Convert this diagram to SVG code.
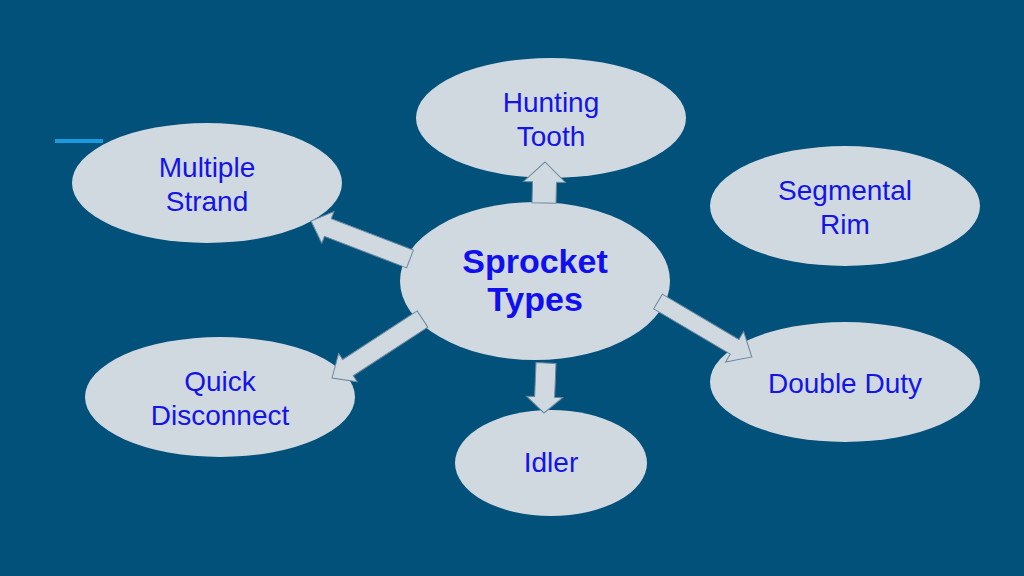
<svg xmlns="http://www.w3.org/2000/svg" width="1024" height="576" viewBox="0 0 1024 576">
<style>
.node ellipse{fill:#d0d8e0;}
.lbl{font-family:"Liberation Sans",Arial,sans-serif;font-size:28px;fill:#1414e6;text-anchor:middle;}
.big{font-family:"Liberation Sans",Arial,sans-serif;font-size:34px;font-weight:bold;fill:#1010ee;text-anchor:middle;}
.arrow{fill:#d0d8e0;stroke:#6a8aa0;stroke-width:1;}
</style>
<rect width="1024" height="576" fill="#02517b"/>
<line x1="55" y1="141" x2="103" y2="141" stroke="#1a9be0" stroke-width="4"/>
<g id="hunting-tooth" class="node"><ellipse cx="551" cy="118" rx="135" ry="60"/><text class="lbl" x="551" y="112">Hunting</text><text class="lbl" x="551" y="146">Tooth</text></g>
<g id="multiple-strand" class="node"><ellipse cx="207" cy="183" rx="135" ry="60"/><text class="lbl" x="207" y="177">Multiple</text><text class="lbl" x="207" y="211">Strand</text></g>
<g id="segmental-rim" class="node"><ellipse cx="845" cy="206" rx="135" ry="60"/><text class="lbl" x="845" y="200">Segmental</text><text class="lbl" x="845" y="234">Rim</text></g>
<g id="quick-disconnect" class="node"><ellipse cx="220" cy="397" rx="135" ry="60"/><text class="lbl" x="220" y="391">Quick</text><text class="lbl" x="220" y="425">Disconnect</text></g>
<g id="double-duty" class="node"><ellipse cx="845" cy="382" rx="135" ry="60"/><text class="lbl" x="845" y="393">Double Duty</text></g>
<g id="idler" class="node"><ellipse cx="551" cy="463" rx="96" ry="53"/><text class="lbl" x="551" y="472">Idler</text></g>
<g id="sprocket-types" class="node"><ellipse cx="535" cy="281" rx="135" ry="79"/><text class="big" x="535" y="273">Sprocket</text><text class="big" x="535" y="311">Types</text></g>
<g id="connectors">
<polygon class="arrow" transform="translate(544,203) rotate(-88.6)" points="0,-12 21,-12 21,-21 41,0 21,21 21,12 0,12"/>
<polygon class="arrow" transform="translate(410,259) rotate(-159)" points="0,-9.5 88,-9.5 88,-17 106,0 88,17 88,9.5 0,9.5"/>
<polygon class="arrow" transform="translate(422.5,319) rotate(146.9)" points="0,-9.7 89,-9.7 89,-17 108,0 89,17 89,9.7 0,9.7"/>
<polygon class="arrow" transform="translate(546,363) rotate(92.3)" points="0,-10 34,-10 34,-18 50,0 34,18 34,10 0,10"/>
<polygon class="arrow" transform="translate(658,301.5) rotate(30.6)" points="0,-8.5 89,-8.5 89,-17.7 109,0 89,17.7 89,8.5 0,8.5"/>
</g>
</svg>
